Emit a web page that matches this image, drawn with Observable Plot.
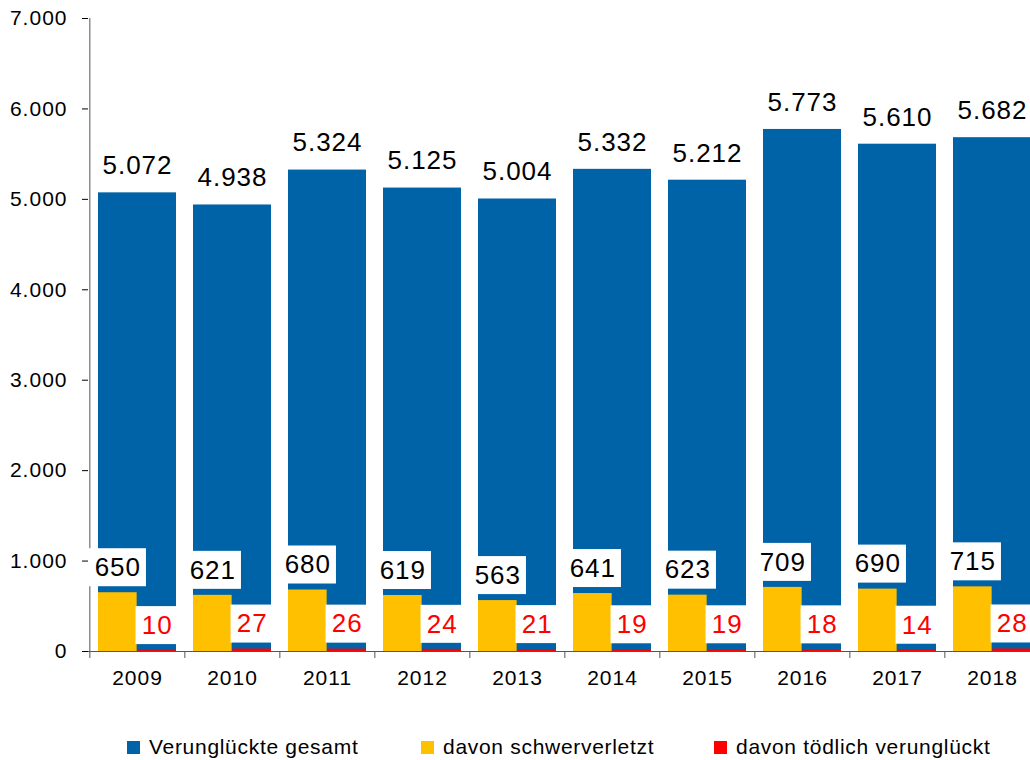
<!DOCTYPE html>
<html>
<head>
<meta charset="utf-8">
<script src="https://cdn.jsdelivr.net/npm/d3@7"></script>
<script src="https://cdn.jsdelivr.net/npm/@observablehq/plot@0.6"></script>
<style>
  html, body { margin: 0; padding: 0; background: #fff; overflow: hidden; }
  #chart svg { display: block; max-width: none; }
  #chart svg text { letter-spacing: 1px; }
  #legend { position: relative; height: 60px; font-family: "Liberation Sans", Arial, sans-serif; font-size: 21px; color: #000; letter-spacing: 0.7px; }
  .item { position: absolute; top: 35px; line-height: 24px; white-space: nowrap; display: flex; align-items: center; }
  .sw { width: 13px; height: 13px; display: inline-block; margin-right: 9px; }
</style>
</head>
<body>
<div id="chart"></div>
<div id="legend"></div>
<script>
// ---- data ----
const years = ["2009","2010","2011","2012","2013","2014","2015","2016","2017","2018"];
const totals = [5072, 4938, 5324, 5125, 5004, 5332, 5212, 5773, 5610, 5682];
const serious = [650, 621, 680, 619, 563, 641, 623, 709, 690, 715];
const fatal = [10, 27, 26, 24, 21, 19, 19, 18, 14, 28];
const yTicks = [0, 1000, 2000, 3000, 4000, 5000, 6000, 7000];
const seriesNames = ["Verunglückte gesamt", "davon schwerverletzt", "davon tödlich verunglückt"];

// ---- styling / geometry ----
const colors = ["#0062a7", "#ffc000", "#ff0000"];
const W = 1030, H = 700, mTop = 18, mBottom = 49, x0 = 88;
const step = 95.3, pIn = 0.174, pOut = pIn / 2;
const x1 = x0 + step * years.length;
const bw = step * (1 - pIn);
const yMax = 7000;
const pxPerUnit = (H - mTop - mBottom) / yMax;
const de = v => d3.format(",")(v).replace(/,/g, ".");

const rows = years.map((year, i) => ({year, total: totals[i], serious: serious[i], fatal: fatal[i]}));

const font = "Liberation Sans, Arial, sans-serif";
const axisColor = "#555";

const chart = Plot.plot({
  width: W,
  height: H,
  marginTop: mTop,
  marginBottom: mBottom,
  marginLeft: x0,
  marginRight: 0,
  style: {fontFamily: font, fontSize: "21px", color: "#000", background: "#fff", overflow: "visible"},
  x: {domain: years, range: [x0, x1], paddingInner: pIn, paddingOuter: pOut, align: 0.5, tickSize: 0, tickPadding: 19, label: null},
  y: {domain: [0, yMax], ticks: yTicks, tickSize: 6, tickPadding: 15, tickFormat: de, label: null},
  marks: [
    Plot.barY(rows, {x: "year", y: "total", fill: colors[0]}),
    Plot.barY(rows, {x: "year", y: "serious", fill: colors[1], insetRight: bw / 2}),
    Plot.barY(rows, {x: "year", y: "fatal", fill: colors[2], insetLeft: bw / 2}),
    Plot.ruleY([0], {stroke: axisColor}),
    Plot.ruleX([years[0]], {y1: 0, y2: yMax, dx: -step / 2, stroke: axisColor}),
    Plot.ruleX(years, {y1: 0, y2: -7 / pxPerUnit, dx: -step / 2, stroke: axisColor}),
    // white label boxes
    Plot.barY(rows, {x: "year", y1: "serious", y2: "serious", fill: "white",
      insetTop: -44, insetBottom: 6, insetLeft: bw / 4 - 29, insetRight: bw - (bw / 4 + 29)}),
    Plot.barY(rows, {x: "year", y1: "fatal", y2: "fatal", fill: "white",
      insetTop: -44, insetBottom: 6, insetLeft: 3 * bw / 4 - 21.5, insetRight: bw - (3 * bw / 4 + 21.5)}),
    // labels
    Plot.text(rows, {x: "year", y: "total", text: d => de(d.total), dy: -27, fontSize: 26, fill: "#000"}),
    Plot.text(rows, {x: "year", y: "serious", text: d => de(d.serious), dx: -bw / 4, dy: -25, fontSize: 26, fill: "#000"}),
    Plot.text(rows, {x: "year", y: "fatal", text: d => de(d.fatal), dx: bw / 4, dy: -25, fontSize: 26, fill: colors[2]})
  ]
});
document.getElementById("chart").appendChild(chart);

// ---- legend ----
const legendLeft = [127, 421, 714];
const legend = document.getElementById("legend");
seriesNames.forEach((name, i) => {
  const it = document.createElement("div");
  it.className = "item";
  it.style.left = legendLeft[i] + "px";
  const sw = document.createElement("span");
  sw.className = "sw";
  sw.style.background = colors[i];
  it.appendChild(sw);
  it.appendChild(document.createTextNode(name));
  legend.appendChild(it);
});
</script>
</body>
</html>
